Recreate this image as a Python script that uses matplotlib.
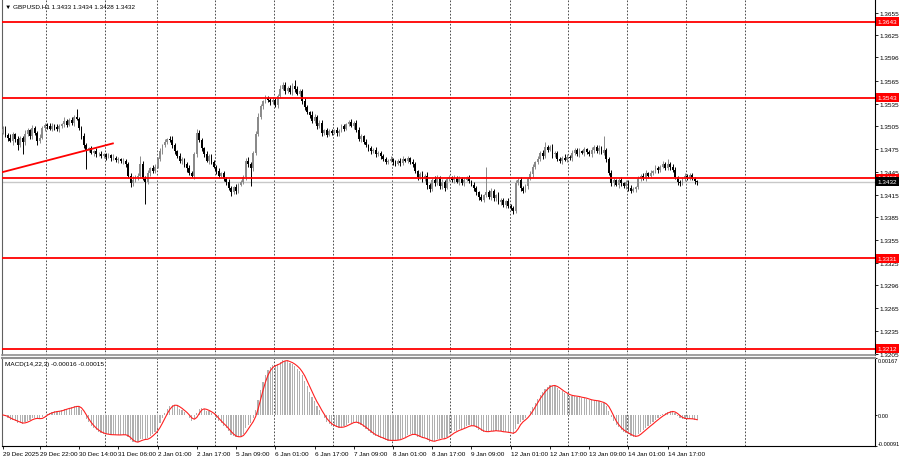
import matplotlib
matplotlib.use("Agg")
import matplotlib.pyplot as plt
import matplotlib.transforms as mtransforms
import numpy as np
import pandas as pd

# GBPUSD H1 closes, one per bar
close = [
    1.3502, 1.3494, 1.3490, 1.3486, 1.3495, 1.3488, 1.3480, 1.3490, 1.3484, 1.3495,
    1.3500, 1.3492, 1.3503, 1.3496, 1.3486, 1.3490, 1.3503, 1.3507, 1.3505, 1.3502,
    1.3506, 1.3504, 1.3501, 1.3505, 1.3508, 1.3512, 1.3507, 1.3514, 1.3510, 1.3518,
    1.3515, 1.3503, 1.3492, 1.3480, 1.3474, 1.3476, 1.3470, 1.3472, 1.3468, 1.3469,
    1.3466, 1.3468, 1.3465, 1.3467, 1.3463, 1.3464, 1.3461, 1.3462, 1.3459, 1.3460,
    1.3455, 1.3440, 1.3430, 1.3434, 1.3438, 1.3440, 1.3455, 1.3436, 1.3432, 1.3444,
    1.3450, 1.3446, 1.3452, 1.3462, 1.3472, 1.3480, 1.3485, 1.3488, 1.3487, 1.3480,
    1.3472, 1.3466, 1.3459, 1.3462, 1.3455, 1.3450, 1.3444, 1.3440, 1.3468, 1.3496,
    1.3487, 1.3476, 1.3468, 1.3460, 1.3466, 1.3458, 1.3452, 1.3446, 1.3440, 1.3443,
    1.3436, 1.3432, 1.3424, 1.3418, 1.3425, 1.3420, 1.3428, 1.3432, 1.3438, 1.3460,
    1.3455, 1.3450, 1.3470, 1.3495, 1.3518, 1.3532, 1.3538, 1.3542, 1.3540, 1.3537,
    1.3540, 1.3533, 1.3545, 1.3555, 1.3560, 1.3552, 1.3556, 1.3550, 1.3558, 1.3554,
    1.3548, 1.3552, 1.3538, 1.3530, 1.3524, 1.3520, 1.3512, 1.3518, 1.3506, 1.3510,
    1.3496, 1.3500, 1.3494, 1.3499, 1.3497, 1.3500, 1.3496, 1.3499, 1.3505, 1.3502,
    1.3508, 1.3511, 1.3506, 1.3510, 1.3500, 1.3488, 1.3492, 1.3485, 1.3480, 1.3476,
    1.3472, 1.3474, 1.3468, 1.3470, 1.3466, 1.3462, 1.3458, 1.3460, 1.3462, 1.3458,
    1.3456, 1.3460, 1.3457, 1.3462, 1.3460, 1.3463, 1.3458, 1.3455, 1.3446, 1.3438,
    1.3442, 1.3436, 1.3440, 1.3428, 1.3422, 1.3435, 1.3430, 1.3438, 1.3426, 1.3432,
    1.3424, 1.3436, 1.3438, 1.3434, 1.3437, 1.3432, 1.3436, 1.3430, 1.3435, 1.3438,
    1.3433, 1.3428, 1.3424, 1.3418, 1.3412, 1.3408, 1.3414, 1.3418, 1.3412, 1.3420,
    1.3410, 1.3414, 1.3405, 1.3408, 1.3402, 1.3406, 1.3400, 1.3398, 1.3394, 1.3430,
    1.3434, 1.3424, 1.3420, 1.3426, 1.3436, 1.3442, 1.3452, 1.3458, 1.3462, 1.3470,
    1.3466, 1.3478, 1.3474, 1.3478, 1.3468, 1.3470, 1.3462, 1.3460, 1.3464, 1.3461,
    1.3465, 1.3463, 1.3470, 1.3474, 1.3468, 1.3472, 1.3470, 1.3475, 1.3471, 1.3468,
    1.3474, 1.3478, 1.3472, 1.3476, 1.3470, 1.3474, 1.3462, 1.3444, 1.3430, 1.3434,
    1.3428, 1.3434, 1.3430, 1.3426, 1.3432, 1.3424, 1.3420, 1.3422, 1.3425, 1.3436,
    1.3440, 1.3437, 1.3443, 1.3440, 1.3444, 1.3446, 1.3450, 1.3448, 1.3452, 1.3455,
    1.3450, 1.3456, 1.3452, 1.3448, 1.3438, 1.3432, 1.3430, 1.3436, 1.3440, 1.3437,
    1.3441, 1.3436, 1.3433, 1.3432,
]
first_open = 1.3497

# upper / lower shadow lengths in pips
wick_up = [
    3, 4, 2, 5, 3, 2, 4, 3, 2, 5, 3, 2, 4, 2, 3, 5, 2, 3, 2, 4,
    3, 2, 4, 3, 2, 5, 3, 2, 4, 2, 10, 3, 2, 4, 3, 2, 3, 2, 4, 2,
    3, 2, 2, 3, 2, 4, 2, 3, 2, 3, 2, 3, 4, 5, 3, 4, 11, 4, 3, 3,
    2, 4, 3, 3, 4, 2, 3, 2, 4, 5, 3, 2, 4, 3, 2, 3, 4, 2, 3, 5,
    4, 3, 2, 4, 3, 2, 3, 2, 4, 2, 3, 2, 4, 3, 2, 4, 3, 2, 3, 4,
    5, 3, 2, 4, 5, 3, 2, 4, 3, 2, 4, 3, 3, 5, 3, 4, 2, 3, 4, 8,
    4, 3, 2, 4, 3, 2, 5, 3, 2, 3, 4, 2, 3, 2, 3, 2, 4, 2, 3, 3,
    2, 3, 4, 2, 3, 4, 3, 2, 3, 2, 3, 2, 4, 2, 3, 2, 3, 2, 4, 2,
    3, 2, 3, 4, 2, 3, 2, 4, 3, 2, 3, 4, 2, 5, 3, 2, 4, 3, 2, 4,
    3, 2, 3, 2, 4, 2, 3, 2, 3, 2, 3, 2, 4, 3, 2, 4, 2, 33, 3, 4,
    3, 2, 4, 2, 3, 2, 4, 3, 2, 4, 3, 4, 2, 3, 2, 4, 3, 2, 4, 3,
    4, 7, 3, 2, 4, 3, 2, 3, 2, 4, 3, 2, 4, 2, 3, 4, 2, 3, 2, 3,
    4, 3, 2, 4, 3, 18, 2, 3, 4, 3, 2, 3, 4, 2, 3, 2, 4, 3, 2, 3,
    2, 3, 4, 2, 3, 2, 4, 3, 2, 4, 3, 6, 2, 3, 4, 2, 3, 2, 3, 2,
    3, 2, 2, 1,
]
wick_dn = [
    2, 3, 4, 2, 5, 3, 6, 2, 15, 3, 2, 4, 3, 2, 5, 3, 2, 4, 3, 2,
    3, 4, 2, 3, 2, 4, 3, 2, 3, 4, 2, 3, 4, 3, 25, 3, 2, 4, 3, 2,
    3, 2, 4, 2, 3, 2, 3, 4, 2, 3, 4, 3, 5, 3, 2, 4, 3, 2, 29, 3,
    4, 2, 3, 2, 3, 4, 2, 3, 2, 3, 4, 3, 2, 4, 3, 5, 3, 2, 4, 3,
    2, 4, 3, 2, 4, 3, 2, 4, 3, 2, 3, 4, 3, 5, 2, 4, 3, 2, 3, 4,
    3, 24, 4, 3, 2, 3, 4, 2, 3, 4, 3, 2, 4, 3, 2, 4, 3, 2, 3, 4,
    2, 3, 4, 3, 2, 4, 3, 2, 4, 3, 4, 2, 3, 2, 3, 2, 4, 3, 2, 3,
    2, 3, 2, 4, 3, 2, 4, 3, 2, 3, 4, 2, 3, 2, 4, 3, 2, 3, 2, 4,
    3, 2, 4, 3, 2, 3, 2, 4, 3, 4, 2, 4, 3, 5, 4, 2, 3, 2, 4, 3,
    4, 2, 3, 2, 3, 2, 4, 2, 3, 2, 3, 2, 4, 3, 4, 2, 3, 2, 3, 4,
    3, 4, 2, 4, 3, 4, 2, 3, 4, 3, 2, 4, 3, 2, 3, 2, 4, 3, 2, 3,
    4, 2, 3, 2, 4, 3, 2, 3, 4, 2, 3, 2, 4, 3, 2, 3, 2, 4, 3, 2,
    3, 4, 2, 3, 2, 3, 4, 3, 4, 3, 2, 4, 3, 2, 3, 4, 3, 2, 3, 2,
    3, 2, 4, 3, 2, 3, 2, 4, 3, 2, 3, 2, 4, 3, 2, 4, 3, 2, 3, 2,
    3, 2, 4, 4,
]

levels = [1.3643, 1.3543, 1.3437, 1.3331, 1.3212]
bid = 1.3432
trend_x = [-0.5, 44.8]
trend_y = [1.34445, 1.34826]

price_ticks = [1.3655, 1.3625, 1.3596, 1.3565, 1.3535, 1.3505, 1.3475, 1.3445,
               1.3415, 1.3385, 1.3355, 1.3325, 1.3296, 1.3265, 1.3235, 1.3205]
macd_ticks = [0.00167, 0.0, -0.00091]
macd_labels = ["0.00167", "0.00", "-0.00091"]

time_labels = ["29 Dec 2025", "29 Dec 22:00", "30 Dec 14:00", "31 Dec 06:00",
               "2 Jan 01:00", "2 Jan 17:00", "5 Jan 09:00", "6 Jan 01:00",
               "6 Jan 17:00", "7 Jan 09:00", "8 Jan 01:00", "8 Jan 17:00",
               "9 Jan 09:00", "12 Jan 01:00", "12 Jan 17:00", "13 Jan 09:00",
               "14 Jan 01:00", "14 Jan 17:00"]
time_pos = [0, 15, 31, 47, 63, 79, 95, 111, 127, 143, 159, 175, 191, 207,
            223, 239, 255, 271]
day_pos = [17.5, 41.6, 62.8, 86.4, 110.5, 134.5, 158.6, 182.2, 206.7,
           230.3, 254.4, 278.4, 302.5]

plt.rcParams["font.family"] = ["Liberation Sans", "DejaVu Sans"]

# ---- OHLC arrays
c = np.array(close)
o = np.r_[first_open, c[:-1]]
hi = np.maximum(o, c) + np.array(wick_up) * 1e-4
lo = np.minimum(o, c) - np.array(wick_dn) * 1e-4
idx = np.arange(len(c))

# MACD(14,22,3): main = EMA14 - EMA22, signal = SMA3 of main
s = pd.Series(c)
macd_main = s.ewm(span=14, adjust=False).mean() - s.ewm(span=22, adjust=False).mean()
macd_sig = macd_main.rolling(3, min_periods=1).mean()

W, H = 900, 460
fig = plt.figure(figsize=(9, 4.6), dpi=100)
fig.patch.set_facecolor("white")
ax = fig.add_axes([2 / W, 1 - 356 / H, 873 / W, 356 / H])
axm = fig.add_axes([2 / W, 1 - 447 / H, 873 / W, 88 / H])

xlim = (-0.4, 355.5)
fs = 4.6

# candles
up = c >= o
body_col = np.where(up, "#8a8a8a", "#000000")
ax.vlines(idx, lo, hi, colors=body_col, lw=0.7, zorder=3)
body_h = np.maximum(np.abs(c - o), 0.00002)
ax.bar(idx, body_h, bottom=np.minimum(o, c), width=0.75, color=body_col,
       linewidth=0, zorder=4)

# levels, bid line and trend line
for lv in levels:
    ax.axhline(lv, color="#ff0000", lw=1.3, zorder=5)
ax.axhline(bid, color="#c8c8c8", lw=1.0, zorder=2)
ax.plot(trend_x, trend_y, color="#ff0000", lw=1.3, zorder=5)

ax.set_xlim(*xlim)
ax.set_ylim(1.32035, 1.36731)

# MACD panel
axm.bar(idx, macd_main.values, width=0.5, color="#b0b0b0", linewidth=0, zorder=3)
axm.plot(idx, macd_sig.values, color="#ff2020", lw=0.8, zorder=4)
axm.set_xlim(*xlim)
axm.set_ylim(-0.00091, 0.00167)

for a in (ax, axm):
    for d in day_pos:
        a.axvline(d, color="#303030", lw=0.6, ls=(0, (2, 2)), zorder=1)
    a.set_facecolor("white")
    a.yaxis.tick_right()
    a.tick_params(axis="y", direction="out", length=2, width=0.6, pad=1,
                  labelsize=fs, colors="black")
    a.spines["left"].set_color("#606060")
    a.spines["right"].set_color("black")
    a.spines["left"].set_linewidth(0.8)
    a.spines["right"].set_linewidth(0.8)

ax.spines["top"].set_visible(False)
ax.spines["bottom"].set_color("#909090")
ax.spines["bottom"].set_linewidth(1.2)
axm.spines["top"].set_color("#909090")
axm.spines["top"].set_linewidth(1.5)
axm.spines["bottom"].set_color("black")
axm.spines["bottom"].set_linewidth(0.8)

ax.set_yticks(price_ticks)
ax.set_yticklabels([f"{t:.4f}" for t in price_ticks])
ax.set_xticks([])

axm.set_yticks(macd_ticks)
axm.set_yticklabels(macd_labels)
axm.tick_params(axis="y", length=1.5, pad=0.5, labelsize=4.1)
ylbls = axm.get_yticklabels()
ylbls[0].set_verticalalignment("top")
ylbls[2].set_verticalalignment("bottom")
axm.set_xticks(time_pos)
axm.set_xticklabels(time_labels)
axm.tick_params(axis="x", direction="out", length=2, width=0.6, pad=1.5,
                labelsize=fs, colors="black")
for lbl in axm.get_xticklabels():
    lbl.set_horizontalalignment("left")

# price tags on the right scale
trans = mtransforms.blended_transform_factory(ax.transAxes, ax.transData)
for lv in levels:
    ax.text(1.003, lv, f"{lv:.4f}", transform=trans, fontsize=fs, color="white",
            va="center", ha="left", zorder=10, clip_on=False,
            bbox=dict(boxstyle="square,pad=0.3", fc="#ff0000", ec="none"))
ax.text(1.003, bid, f"{bid:.4f}", transform=trans, fontsize=fs, color="white",
        va="center", ha="left", zorder=10, clip_on=False,
        bbox=dict(boxstyle="square,pad=0.3", fc="black", ec="none"))

# headers
fig.text(5 / W, 1 - 7 / H, "\u25bc GBPUSD.H1 1.3433 1.3434 1.3428 1.3432",
         fontsize=fs, va="center", ha="left", color="black")
fig.text(5 / W, 1 - 365 / H, "MACD(14,22,3) -0.00016 -0.00015",
         fontsize=fs, va="center", ha="left", color="black")

fig.savefig("out.png", dpi=100, facecolor="white")
